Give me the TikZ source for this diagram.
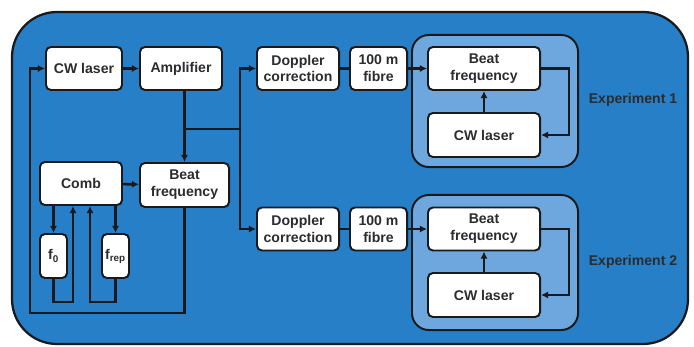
\documentclass[tikz,border=0pt]{standalone}
\usepackage{fontspec}
\setmainfont{Liberation Sans}
\usepackage{xcolor}
\usetikzlibrary{arrows.meta,positioning}

\definecolor{bgblue}{RGB}{38,127,199}
\definecolor{grpblue}{RGB}{110,167,221}
\definecolor{ink}{RGB}{26,26,28}
\definecolor{txt}{RGB}{44,44,46}

\begin{document}
\begin{tikzpicture}[x=0.025cm, y=-0.025cm,
  box/.style={draw=ink, fill=white, rounded corners=3.5pt, line width=1.4pt, align=center,
    font=\bfseries\fontsize{10}{12}\selectfont, text=txt, inner sep=0pt,
    minimum width=2.05cm, minimum height=1.075cm},
  grp/.style={draw=ink, fill=grpblue, rounded corners=12pt, line width=1.4pt, inner sep=0pt,
    minimum width=4.15cm, minimum height=3.3cm},
  lbl/.style={font=\bfseries\fontsize{10}{12}\selectfont, text=txt},
  wire/.style={draw=ink, line width=1.9pt},
  arr/.style={wire, -{Latex[length=5pt,width=5pt]}}]

  \useasboundingbox (0,0) rectangle (694,347);
  \draw[draw=ink, fill=bgblue, line width=1.6pt, rounded corners=32pt] (12,12) rectangle (688,344);

  % Source side
  \node[box, minimum width=1.9cm] (cwl) at (84,68.5) {CW laser};
  \node[box] (amp) at (181,68.5) {Amplifier};
  \node[box] (comb) at (81,183.5) {Comb};
  \node[box, minimum width=2.225cm, minimum height=1.1cm] (beat) at (184.5,185) {Beat\\frequency};
  \node[box, minimum width=0.675cm, minimum height=1.1cm] (f0) at (53.5,256) {f\textsubscript{0}};
  \node[box, minimum width=0.675cm, minimum height=1.1cm] (frep) at (115.5,256) {f\textsubscript{rep}};

  % Experiment 1
  \node[box] (dop1) at (298,68.5) {Doppler\\correction};
  \node[box, minimum width=1.425cm] (fib1) at (378.5,68.5) {100 m\\fibre};
  \node[grp] (grp1) at (495,101) {};
  \node[box, minimum width=2.8cm] (beat1) at (484,68.5) {Beat\\frequency};
  \node[box, minimum width=2.8cm, minimum height=1.1cm] (cwl1) at (484,135) {CW laser};
  \node[lbl] (exp1) at (633,100) {Experiment 1};

  % Experiment 2
  \node[box] (dop2) at (298,229) {Doppler\\correction};
  \node[box, minimum width=1.425cm] (fib2) at (378.5,229) {100 m\\fibre};
  \node[grp, minimum height=3.375cm] (grp2) at (495,262.5) {};
  \node[box, minimum width=2.8cm] (beat2) at (484,229) {Beat\\frequency};
  \node[box, minimum width=2.8cm, minimum height=1.1cm] (cwl2) at (484,295) {CW laser};
  \node[lbl] (exp2) at (633,262) {Experiment 2};

  % Helper points
  \coordinate (split) at (240,129);
  \coordinate (lb) at (30,313);
  \coordinate (f0b) at (73,302);
  \coordinate (frb) at (90,302);

  % Connections
  \draw[arr] (cwl) -- (amp);
  \draw[arr] (beat.north |- amp.south) -- (beat.north);
  \draw[wire] (beat.north |- split) -- (split);
  \draw[arr] (split) |- (dop1.west);
  \draw[arr] (split) |- (dop2.west);
  \draw[arr] (comb) -- (beat);
  \draw[arr] (beat.south) |- (lb) |- (cwl.west);
  \draw[arr] (comb.south -| f0) -- (f0.north);
  \draw[arr] (comb.south -| frep) -- (frep.north);
  \draw[arr] (f0.south) |- (f0b) -- (f0b |- comb.south);
  \draw[arr] (frep.south) |- (frb) -- (frb |- comb.south);

  \draw[wire] (dop1) -- (fib1);
  \draw[arr] (fib1) -- (beat1);
  \draw[arr] (cwl1) -- (beat1);
  \draw[arr] (beat1.east) -- ++(28,0) |- (cwl1.east);

  \draw[wire] (dop2) -- (fib2);
  \draw[arr] (fib2) -- (beat2);
  \draw[arr] (cwl2) -- (beat2);
  \draw[arr] (beat2.east) -- ++(28,0) |- (cwl2.east);

\end{tikzpicture}
\end{document}
